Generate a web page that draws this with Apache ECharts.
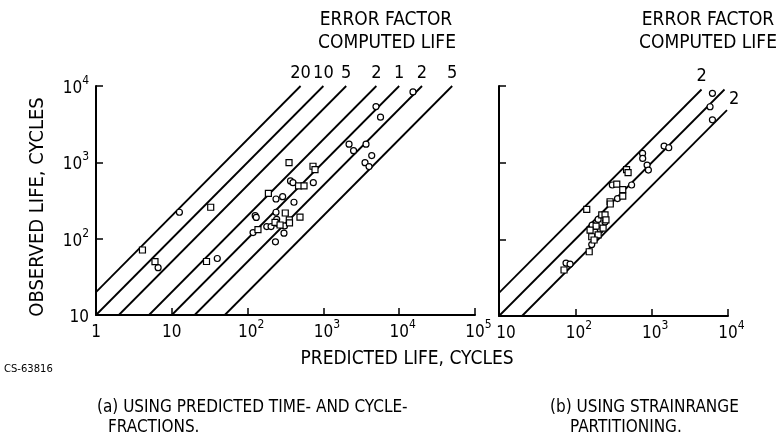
<!DOCTYPE html>
<html><head><meta charset="utf-8">
<script src="https://cdn.jsdelivr.net/npm/echarts@6/dist/echarts.min.js"></script>
<style>html,body{margin:0;padding:0;background:#fff}#c{width:777px;height:443px}</style>
</head><body><div id="c"></div>
<script>
const FONT = '"Liberation Sans Narrow","DejaVu Sans Condensed","Arial Narrow",sans-serif';

// ---- Panel (a): using predicted time- and cycle-fractions ----
const aCircles = [[15200,8370],[4940,5370],[5670,3900],[2180,1730],[2500,1420],[3650,1730],[4340,1225],[3540,990],[4000,880],
  [368,570],[397,542],[736,542],[237,331],[290,355],[409,300],[12.6,222],[237,222],[126,200],[130,190],[242,179],
  [118,120],[179,144],[204,144],[302,118],[233,91],[6.6,41.7],[39.8,55],[242,159],[307,147]];
const aSquares = [[352,990],[729,889],[775,802],[470,491],[555,491],[188,393],[32.6,258],[314,217],[491,191],[355,176],
  [4.1,71],[6.0,50],[28.7,50.2],[137,131],[230,163],[268,151],[357,161]];
const aFactors = [20,10,5,2,1,0.5,0.2];
const aFactorLabels = ['20','10','5','2','1','2','5'];
const aXTickLabels = ['1','10','10^2','10^3','10^4','10^5'];
const aYTickLabels = ['10','10^2','10^3','10^4'];
const aXRange = [1,100000];
const aYRange = [10,10000];

// ---- Panel (b): using strainrange partitioning ----
const bCircles = [[6250,8020],[5820,5360],[6250,3620],[1455,1645],[1675,1565],[760,1320],[763,1137],[871,931],[906,801],
  [546,511],[305,511],[357,340],[199,182],[164,85.5],[75.5,49],[85.3,47.6],[166,153],[211,132],[245,168],[181,124]];
const bSquares = [[469,813],[491,743],[349,526],[418,446],[418,367],[285,309],[287,289],[141,246],[222,208],[245,208],
  [164,108],[152,68.9],[71.1,39.8],[187,149],[231,140],[156,132],[199,114],[252,179],[176,98]];
const bFactors = [2,1,0.5];
const bFactorLabels = ['2','','2'];
const bXTickLabels = ['10','10^2','10^3','10^4'];
const bXRange = [10,10000];
const bYRange = [10,10000];
const bLineXRange = [10,9700];
const bLineYRange = [10,9000];

function labelFor(list, v, spacer, shiftTen) {
  const e = Math.round(Math.log10(v));
  const s = list.find(t => { const p = t.split('^'); return (p.length > 1 ? +p[1] : Math.round(Math.log10(+p[0]))) === e; });
  if (!s) return '';
  const p = s.split('^');
  if (p.length === 1) return (shiftTen ? '{q|}' : '') + '{b|' + p[0] + '}';
  return (spacer ? '{p|}' : '') + '{b|' + p[0] + '}{s|' + p[1] + '}';
}
const rich = {
  b: {fontFamily: FONT, fontSize: 17, color: '#000', padding: [5,0,0,0], verticalAlign: 'bottom'},
  s: {fontFamily: FONT, fontSize: 12, color: '#000', verticalAlign: 'top', lineHeight: 12},
  p: {width: 7},
  q: {width: 14}
};

function factorLine(f, xr, yr) {
  const x0 = Math.max(xr[0], yr[0] / f);
  const x1 = Math.min(xr[1], yr[1] / f);
  return [[x0, f * x0], [x1, f * x1]];
}

const axisLine = {show: true, onZero: false, lineStyle: {color: '#000', width: 2}};
const axisTick = {show: true, inside: true, length: 7, lineStyle: {color: '#000', width: 1.5}};

const series = [];
aFactors.forEach((f, i) => {
  const pts = factorLine(f, aXRange, aYRange);
  series.push({type: 'line', xAxisIndex: 0, yAxisIndex: 0, silent: true, symbol: 'circle', symbolSize: 0, showSymbol: true,
    lineStyle: {color: '#000', width: 1.8}, itemStyle: {color: '#000'}, z: 2,
    data: [pts[0], {value: pts[1], label: {show: true, position: 'top', distance: 4, formatter: aFactorLabels[i],
      fontFamily: FONT, fontSize: 18, color: '#000'}}]});
});
bFactors.forEach((f, i) => {
  const pts = factorLine(f, bLineXRange, bLineYRange);
  const lower = i === 2;
  series.push({type: 'line', xAxisIndex: 1, yAxisIndex: 1, silent: true, symbol: 'circle', symbolSize: 0, showSymbol: true,
    lineStyle: {color: '#000', width: 1.8}, itemStyle: {color: '#000'}, z: 2,
    data: [pts[0], {value: pts[1], label: {show: bFactorLabels[i] !== '', position: lower ? 'right' : 'top',
      distance: lower ? 2 : 4, offset: lower ? [0, -11] : [0, 0], formatter: bFactorLabels[i],
      fontFamily: FONT, fontSize: 18, color: '#000'}}]});
});
const mk = (data, sym, xi) => ({type: 'scatter', xAxisIndex: xi, yAxisIndex: xi, data: data, symbol: sym, symbolSize: 6,
  itemStyle: {color: '#fff', borderColor: '#000', borderWidth: 1.2, opacity: 1}, z: 5});
series.push(mk(aCircles, 'circle', 0), mk(aSquares, 'rect', 0), mk(bCircles, 'circle', 1), mk(bSquares, 'rect', 1));

const txt = (t, x, y, size, extra) => ({type: 'text', x: x, y: y, silent: true,
  style: Object.assign({text: t, fill: '#000', font: size + 'px ' + FONT, align: 'center', verticalAlign: 'middle',
    textAlign: 'center', textVerticalAlign: 'middle'}, extra || {})});

const option = {
  animation: false,
  backgroundColor: '#fff',
  grid: [
    {left: 96, top: 86, width: 379, height: 229},
    {left: 499, top: 86, width: 229, height: 230}
  ],
  xAxis: [
    {gridIndex: 0, type: 'log', logBase: 10, min: aXRange[0], max: aXRange[1], axisLine, axisTick, splitLine: {show: false},
      axisLabel: {margin: 4, formatter: v => labelFor(aXTickLabels, v, true, false), rich}},
    {gridIndex: 1, type: 'log', logBase: 10, min: bXRange[0], max: bXRange[1], axisLine, axisTick, splitLine: {show: false},
      axisLabel: {margin: 4, formatter: v => labelFor(bXTickLabels, v, true, true), rich}}
  ],
  yAxis: [
    {gridIndex: 0, type: 'log', logBase: 10, min: aYRange[0], max: aYRange[1], axisLine, axisTick, splitLine: {show: false},
      axisLabel: {margin: 7, formatter: v => labelFor(aYTickLabels, v, false, false), rich}},
    {gridIndex: 1, type: 'log', logBase: 10, min: bYRange[0], max: bYRange[1], axisLine, axisTick, splitLine: {show: false},
      axisLabel: {show: false}}
  ],
  graphic: [
    txt('ERROR FACTOR', 386, 20, 19),
    txt('COMPUTED LIFE', 387, 43, 19),
    txt('ERROR FACTOR', 708, 20, 19),
    txt('COMPUTED LIFE', 708, 43, 19),
    Object.assign(txt('OBSERVED LIFE, CYCLES', 38, 207, 20), {rotation: Math.PI / 2}),
    txt('PREDICTED LIFE, CYCLES', 407, 359, 19),
    txt('CS-63816', 4, 369, 10, {font: '10px "DejaVu Sans",sans-serif', align: 'left', textAlign: 'left'}),
    txt('(a) USING PREDICTED TIME- AND CYCLE-', 97, 408, 17, {align: 'left', textAlign: 'left'}),
    txt('FRACTIONS.', 108, 428, 17, {align: 'left', textAlign: 'left'}),
    txt('(b) USING STRAINRANGE', 550, 408, 17, {align: 'left', textAlign: 'left'}),
    txt('PARTITIONING.', 570, 428, 17, {align: 'left', textAlign: 'left'})
  ],
  series
};
const chart = echarts.init(document.getElementById('c'), null, {renderer: 'canvas'});
chart.setOption(option);
</script></body></html>
